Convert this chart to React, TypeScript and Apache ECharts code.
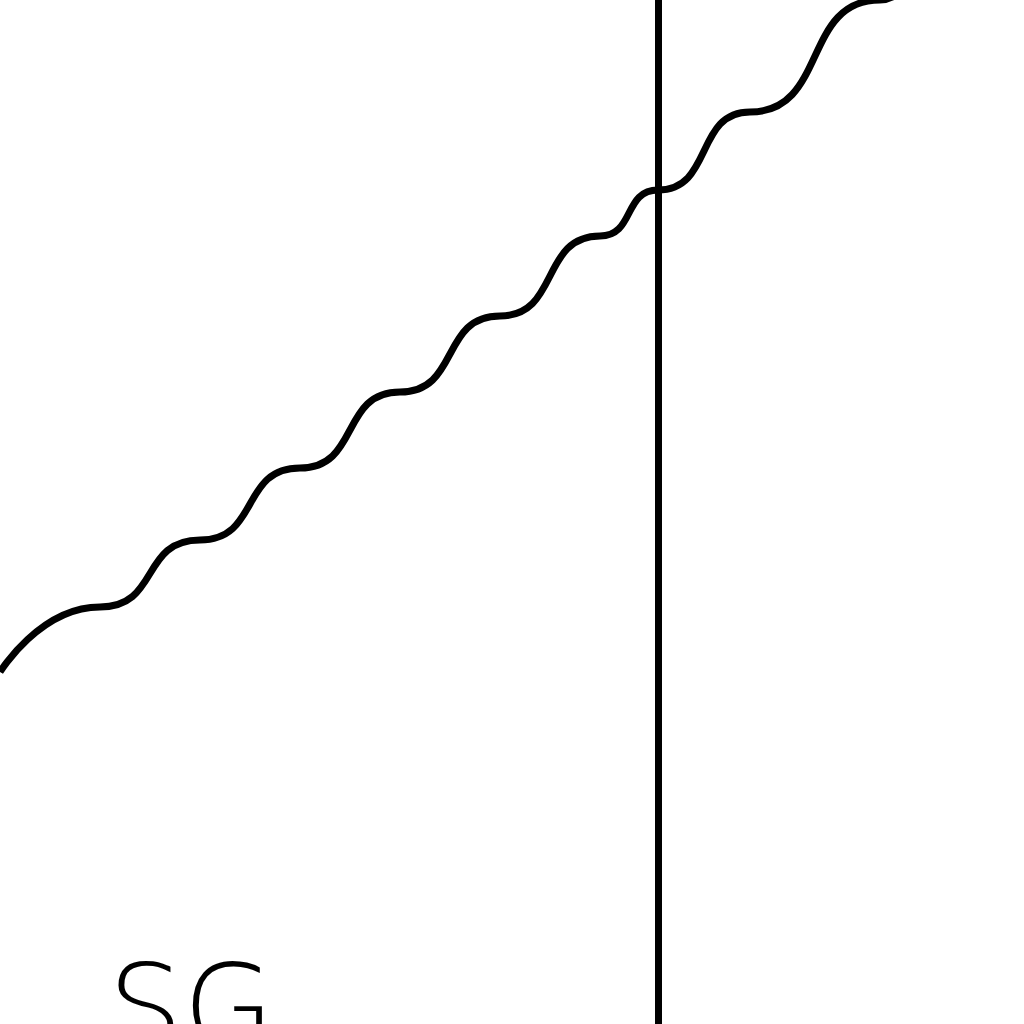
import * as echarts from 'echarts'
import { useEffect, useRef } from 'react'

const curveX = [0, 100, 200, 300, 400, 500, 600, 658, 750, 880, 920]
const curveY = [672, 607, 540, 468, 392, 316, 236, 190, 112, 0, -34]
const markerX = 658
const label = 'SG'

const App = () => {
  const containerRef = useRef<HTMLDivElement>(null)

  useEffect(() => {
    if (!containerRef.current) return
    const chart = echarts.init(containerRef.current, undefined, { renderer: 'svg' })
    chart.setOption({
      animation: false,
      backgroundColor: '#fff',
      grid: { left: 0, right: 0, top: 0, bottom: 0 },
      xAxis: { type: 'value', min: 0, max: 1024, show: false },
      yAxis: { type: 'value', min: 0, max: 1024, inverse: true, show: false },
      series: [
        {
          type: 'line',
          smooth: 0.6,
          smoothMonotone: 'x',
          symbol: 'none',
          clip: true,
          lineStyle: { color: '#000', width: 7 },
          data: curveX.map((x, i) => [x, curveY[i]]),
          markLine: {
            silent: true,
            symbol: 'none',
            label: { show: false },
            lineStyle: { color: '#000', width: 7, type: 'solid' },
            data: [{ xAxis: markerX }]
          }
        }
      ],
      graphic: [
        {
          type: 'text',
          left: 108,
          top: 948,
          style: {
            text: label,
            fill: '#000',
            font: '200 118px "DejaVu Sans", sans-serif'
          }
        }
      ]
    })
    return () => chart.dispose()
  }, [])

  return (
    <div
      ref={containerRef}
      style={{ position: 'fixed', left: 0, top: 0, width: 1024, height: 1024 }}
    />
  )
}

export default App
